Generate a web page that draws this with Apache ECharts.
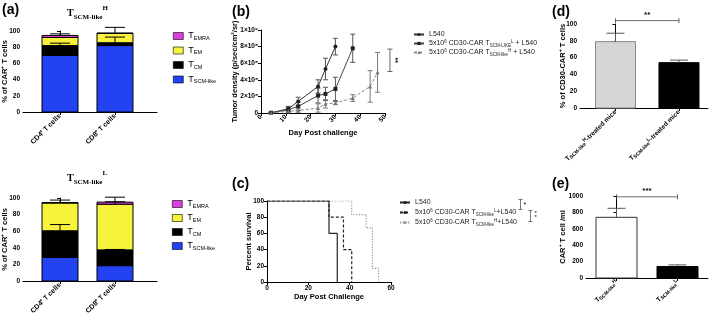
<!DOCTYPE html>
<html>
<head>
<meta charset="utf-8">
<title>CD30-CAR TSCM-like</title>
<script src="https://cdn.jsdelivr.net/npm/echarts@6/dist/echarts.min.js"></script>
<style>html,body{margin:0;padding:0;background:#fff}</style>
</head>
<body>
<div id="main" style="width:709px;height:315px"></div>
<script>
// ---------- data ----------
var cellGroups = ['CD4⁺ T cells', 'CD8⁺ T cells'];
var subsetNames = ['TEMRA', 'TEM', 'TCM', 'TSCM-like'];
var subsetColors = {'TSCM-like': '#2342f2', 'TCM': '#000000', 'TEM': '#f7f23c', 'TEMRA': '#d93fdc'};

// (a) T_SCM-like^H, % of CAR+ T cells [CD4, CD8]
var highSCM = [70, 82];
var highCM = [12, 3.5];
var highEM = [10, 11.5];
var highEMRA = [2.5, 0.5];
var highErrCM = [3, 7];
var highErrEM = [0, 0];
var highErrEMRA = [2, 7];

// (a) T_SCM-like^L
var lowSCM = [28.5, 18.5];
var lowCM = [32, 19];
var lowEM = [33.5, 55];
var lowEMRA = [0.5, 2.5];
var lowErrCM = [7.5, 0.5];
var lowErrEM = [0, 3];
var lowErrEMRA = [3, 6];

// (b) tumor density (p/sec/cm2/sr)
var daysL540 = [4, 11, 15, 23, 26, 30];
var tumorL540 = [0.03e8, 0.5e8, 1.4e8, 3.2e8, 5.3e8, 8.0e8];
var tumorL540Err = [0.03e8, 0.3e8, 0.5e8, 0.8e8, 1.3e8, 1.0e8];
var daysLowTx = [4, 11, 15, 23, 26, 30, 37];
var tumorLowTx = [0.03e8, 0.4e8, 0.8e8, 2.1e8, 2.3e8, 2.9e8, 7.8e8];
var tumorLowTxErr = [0.03e8, 0.3e8, 0.5e8, 0.9e8, 0.8e8, 1.4e8, 1.7e8];
var daysHighTx = [4, 11, 15, 23, 26, 30, 37, 44, 47];
var tumorHighTx = [0.02e8, 0.2e8, 0.3e8, 0.6e8, 1.1e8, 1.2e8, 1.8e8, 3.2e8, 4.9e8];
var tumorHighTxErr = [0.02e8, 0.1e8, 0.2e8, 0.5e8, 0.5e8, 0.2e8, 0.4e8, 1.9e8, 2.4e8];
var densityTicks = ['0', '2×10⁸', '4×10⁸', '6×10⁸', '8×10⁸', '1×10⁹'];

// (c) percent survival
var survDaysL540 = [0, 30, 34];
var survL540 = [100, 60, 0];
var survDaysLowTx = [0, 30, 37, 41];
var survLowTx = [100, 80, 40, 0];
var survDaysHighTx = [0, 41, 48, 51, 54];
var survHighTx = [100, 83.3, 66.7, 16.7, 0];

// (d) % of CD30-CAR+ T cells, (e) CAR+ T cell /ml
var miceGroups = ['T{s|SCM-like}{p|H}-treated mice', 'T{s|SCM-like}{p|L}-treated mice'];
var pctCD30 = [79, 54];
var pctCD30Err = [10, 3];
var cellGroupsE = ['T{s|SCM-like}{p|H}', 'T{s|SCM-like}{p|L}'];
var carPerMl = [740, 140];
var carPerMlErr = [110, 20];

// ---------- helpers ----------
var FONT = 'Liberation Sans';
var black = {color: '#000', width: 1};
var tickLbl = {color: '#000', fontSize: 6.5, fontWeight: 'bold', fontFamily: FONT, margin: 3};
var nameStyle = {color: '#000', fontSize: 7.5, fontWeight: 'bold', fontFamily: FONT};
var richSub = {
  s: {fontSize: 5, fontWeight: 'bold', fontFamily: FONT, color: '#000', verticalAlign: 'bottom', lineHeight: 8},
  p: {fontSize: 5, fontWeight: 'bold', fontFamily: FONT, color: '#000', verticalAlign: 'top', lineHeight: 8}
};

function barItem(w, fills, strokes) {
  return function (params, api) {
    var x = api.value(0);
    var p0 = api.coord([x, api.value(1)]);
    var p1 = api.coord([x, api.value(2)]);
    var i = params.dataIndex;
    return {type: 'rect', shape: {x: p0[0] - w / 2, y: p1[1], width: w, height: p0[1] - p1[1]},
      style: {fill: fills[i % fills.length], stroke: strokes[i % strokes.length], lineWidth: 1}};
  };
}

function errItem(capW, color, both) {
  return function (params, api) {
    var x = api.value(0);
    var lo = api.coord([x, api.value(1)]);
    var hi = api.coord([x, api.value(2)]);
    var kids = [
      {type: 'line', shape: {x1: lo[0], y1: lo[1], x2: hi[0], y2: hi[1]}, style: {stroke: color, lineWidth: 1}},
      {type: 'line', shape: {x1: hi[0] - capW / 2, y1: hi[1], x2: hi[0] + capW / 2, y2: hi[1]}, style: {stroke: color, lineWidth: 1}}
    ];
    if (both) kids.push({type: 'line', shape: {x1: lo[0] - capW / 2, y1: lo[1], x2: lo[0] + capW / 2, y2: lo[1]}, style: {stroke: color, lineWidth: 1}});
    return {type: 'group', children: kids};
  };
}

function stackedPanel(gi, parts) {
  var out = [];
  var base = [0, 0];
  parts.forEach(function (p) {
    var data = p.vals.map(function (v, i) { return [i, base[i], base[i] + v]; });
    var c = subsetColors[p.name];
    out.push({type: 'custom', name: p.name, xAxisIndex: gi, yAxisIndex: gi, itemStyle: {color: c},
      encode: {x: 0, y: [1, 2]}, data: data, renderItem: barItem(36, [c], ['#000'])});
    var errData = [];
    p.err.forEach(function (e, i) {
      if (e > 0) errData.push([i, base[i] + p.vals[i], base[i] + p.vals[i] + e]);
    });
    out.push({type: 'custom', xAxisIndex: gi, yAxisIndex: gi, z: 5, encode: {x: 0, y: [1, 2]},
      data: errData, renderItem: errItem(20, '#000', false)});
    base = base.map(function (b, i) { return b + p.vals[i]; });
  });
  return out;
}

function catAxis(gi, min, max, labels, rich) {
  return {gridIndex: gi, type: 'value', min: min, max: max,
    axisLine: {show: true, lineStyle: black}, splitLine: {show: false},
    axisTick: {show: true, length: 3, customValues: [0, 1], lineStyle: black},
    axisLabel: Object.assign({}, tickLbl, {customValues: [0, 1], rotate: 45, fontSize: rich ? 6.5 : 7,
      formatter: function (v) { return Math.abs(v - Math.round(v)) < 1e-6 ? (labels[Math.round(v)] || '') : ''; },
      rich: richSub})};
}

function valAxis(gi, min, max, interval, name, gap, fmt) {
  return {gridIndex: gi, type: 'value', min: min, max: max, interval: interval,
    axisLine: {show: true, lineStyle: black}, splitLine: {show: false},
    axisTick: {show: true, length: 3, lineStyle: black},
    axisLabel: Object.assign({}, tickLbl, {formatter: fmt || function (v) { return String(v); }}),
    name: name, nameLocation: 'middle', nameGap: gap, nameMoveOverlap: false, nameTextStyle: nameStyle};
}

function lineErr(gi, xs, ys, es, color) {
  return {type: 'custom', xAxisIndex: gi, yAxisIndex: gi, z: 1, encode: {x: 0, y: [1, 2]},
    data: xs.map(function (x, i) { return [x, ys[i] - es[i], ys[i] + es[i]]; }),
    renderItem: errItem(5, color, true)};
}

function pairs(xs, ys) { return xs.map(function (x, i) { return [x, ys[i]]; }); }

function sigBracket(gi, x0, x1, y, text) {
  return {type: 'custom', xAxisIndex: gi, yAxisIndex: gi, z: 6, clip: false, data: [[x0, x1, y]],
    renderItem: function (params, api) {
      var a = api.coord([api.value(0), api.value(2)]);
      var b = api.coord([api.value(1), api.value(2)]);
      var st = {stroke: '#444', lineWidth: 0.8};
      return {type: 'group', children: [
        {type: 'line', shape: {x1: a[0], y1: a[1], x2: b[0], y2: b[1]}, style: st},
        {type: 'line', shape: {x1: a[0], y1: a[1] - 2.5, x2: a[0], y2: a[1] + 2.5}, style: st},
        {type: 'line', shape: {x1: b[0], y1: b[1] - 2.5, x2: b[0], y2: b[1] + 2.5}, style: st},
        {type: 'text', x: (a[0] + b[0]) / 2, y: a[1] - 2, style: {text: text, fill: '#000', fontSize: 8, fontWeight: 'bold', fontFamily: FONT, align: 'center', verticalAlign: 'bottom'}}
      ]};
    }};
}

function subsetFmt(name) { return 'T{s|' + name.slice(1) + '}'; }
var subsetLegendText = {color: '#000', fontSize: 9, fontFamily: FONT, lineHeight: 10,
  rich: {s: {fontSize: 5.5, fontFamily: FONT, color: '#000', verticalAlign: 'bottom', lineHeight: 8}}};

var legendNames = {
  bL540: 'L540',
  bLow: '5x10{p|6} CD30-CAR T{s|SCM-LIKE}{p|L} + L540',
  bHigh: '5x10{p|6} CD30-CAR T{s|SCM-like}{p|H} + L540',
  cL540: 'L540',
  cLow: '5x10{p|6} CD30-CAR T{s|SCM-like}{p|L}+L540',
  cHigh: '5x10{p|6} CD30-CAR T{s|SCM-like}{p|H}+L540'
};
var smallLegendText = {color: '#222', fontSize: 7, fontFamily: FONT, lineHeight: 9,
  rich: {
    s: {fontSize: 4.5, fontFamily: FONT, color: '#222', verticalAlign: 'bottom', lineHeight: 8},
    p: {fontSize: 4.5, fontFamily: FONT, color: '#222', verticalAlign: 'top', lineHeight: 8}
  }};

var titleRich = {
  t: {fontSize: 10, fontWeight: 'bold', fontFamily: 'Liberation Serif', color: '#000', lineHeight: 16},
  s: {fontSize: 7, fontWeight: 'bold', fontFamily: 'Liberation Serif', color: '#000', verticalAlign: 'bottom', lineHeight: 10},
  p: {fontSize: 7, fontWeight: 'bold', fontFamily: 'Liberation Serif', color: '#000', verticalAlign: 'top', lineHeight: 9}
};

var series = [];
series = series.concat(stackedPanel(0, [
  {name: 'TSCM-like', vals: highSCM, err: [0, 0]},
  {name: 'TCM', vals: highCM, err: highErrCM},
  {name: 'TEM', vals: highEM, err: highErrEM},
  {name: 'TEMRA', vals: highEMRA, err: highErrEMRA}
]));
series = series.concat(stackedPanel(1, [
  {name: 'TSCM-like', vals: lowSCM, err: [0, 0]},
  {name: 'TCM', vals: lowCM, err: lowErrCM},
  {name: 'TEM', vals: lowEM, err: lowErrEM},
  {name: 'TEMRA', vals: lowEMRA, err: lowErrEMRA}
]));

// (b)
series.push(lineErr(2, daysL540, tumorL540, tumorL540Err, '#555'));
series.push(lineErr(2, daysLowTx, tumorLowTx, tumorLowTxErr, '#555'));
series.push(lineErr(2, daysHighTx, tumorHighTx, tumorHighTxErr, '#777'));
series.push({type: 'line', name: 'bL540', xAxisIndex: 2, yAxisIndex: 2, data: pairs(daysL540, tumorL540),
  symbol: 'circle', symbolSize: 4, lineStyle: {color: '#333', width: 1}, itemStyle: {color: '#222'}});
series.push({type: 'line', name: 'bLow', xAxisIndex: 2, yAxisIndex: 2, data: pairs(daysLowTx, tumorLowTx),
  symbol: 'rect', symbolSize: 4, lineStyle: {color: '#444', width: 1}, itemStyle: {color: '#222'}});
series.push({type: 'line', name: 'bHigh', xAxisIndex: 2, yAxisIndex: 2, data: pairs(daysHighTx, tumorHighTx),
  symbol: 'triangle', symbolSize: 4, lineStyle: {color: '#888', width: 1, type: [3, 2]}, itemStyle: {color: '#777'}});
series.push({type: 'custom', xAxisIndex: 2, yAxisIndex: 2, clip: false, data: [[52, 5.0e8, 7.7e8]],
  renderItem: function (params, api) {
    var lo = api.coord([api.value(0), api.value(1)]);
    var hi = api.coord([api.value(0), api.value(2)]);
    var st = {stroke: '#444', lineWidth: 0.8};
    return {type: 'group', children: [
      {type: 'line', shape: {x1: lo[0], y1: lo[1], x2: hi[0], y2: hi[1]}, style: st},
      {type: 'line', shape: {x1: lo[0] - 2.5, y1: lo[1], x2: lo[0] + 2.5, y2: lo[1]}, style: st},
      {type: 'line', shape: {x1: hi[0] - 2.5, y1: hi[1], x2: hi[0] + 2.5, y2: hi[1]}, style: st},
      {type: 'text', x: lo[0] + 5, y: (lo[1] + hi[1]) / 2, rotation: -Math.PI / 2,
        style: {text: '**', fill: '#000', fontSize: 7, fontWeight: 'bold', fontFamily: FONT, align: 'center', verticalAlign: 'middle'}}
    ]};
  }});

// (c)
series.push({type: 'line', name: 'cL540', xAxisIndex: 3, yAxisIndex: 3, step: 'end', data: pairs(survDaysL540, survL540),
  showSymbol: false, symbol: 'circle', symbolSize: 3, lineStyle: {color: '#222', width: 1.2}, itemStyle: {color: '#222'}, z: 4});
series.push({type: 'line', name: 'cLow', xAxisIndex: 3, yAxisIndex: 3, step: 'end', data: pairs(survDaysLowTx, survLowTx),
  showSymbol: false, symbol: 'circle', symbolSize: 3, lineStyle: {color: '#222', width: 1.2, type: [3, 2]}, itemStyle: {color: '#222'}, z: 3});
series.push({type: 'line', name: 'cHigh', xAxisIndex: 3, yAxisIndex: 3, step: 'end', data: pairs(survDaysHighTx, survHighTx),
  showSymbol: false, symbol: 'circle', symbolSize: 3, lineStyle: {color: '#999', width: 1.2, type: [1.2, 1.5]}, itemStyle: {color: '#999'}, z: 2});

// (d)
series.push({type: 'custom', xAxisIndex: 4, yAxisIndex: 4, encode: {x: 0, y: [1, 2]},
  data: pctCD30.map(function (v, i) { return [i, 0, v]; }),
  renderItem: barItem(40, ['#d6d6d6', '#000'], ['#888', '#000'])});
series.push({type: 'custom', xAxisIndex: 4, yAxisIndex: 4, z: 5, encode: {x: 0, y: [1, 2]},
  data: pctCD30.map(function (v, i) { return [i, v, v + pctCD30Err[i]]; }),
  renderItem: errItem(18, '#555', false)});
series.push(sigBracket(4, 0, 1, 104, '**'));

// (e)
series.push({type: 'custom', xAxisIndex: 5, yAxisIndex: 5, encode: {x: 0, y: [1, 2]},
  data: carPerMl.map(function (v, i) { return [i, 0, v]; }),
  renderItem: barItem(41, ['#fff', '#000'], ['#333', '#000'])});
series.push({type: 'custom', xAxisIndex: 5, yAxisIndex: 5, z: 5, encode: {x: 0, y: [1, 2]},
  data: carPerMl.map(function (v, i) { return [i, v, v + carPerMlErr[i]]; }),
  renderItem: errItem(18, '#555', false)});
series.push(sigBracket(5, 0, 1, 990, '***'));

var option = {
  animation: false,
  backgroundColor: '#fff',
  title: [
    {text: '{t|T}{s|SCM-like}{p|H}', left: 62, top: 0, textStyle: {rich: titleRich}},
    {text: '{t|T}{s|SCM-like}{p|L}', left: 62, top: 165, textStyle: {rich: titleRich}}
  ],
  grid: [
    {left: 23, top: 31, width: 134, height: 81, outerBoundsMode: 'none'},
    {left: 23, top: 198, width: 134, height: 83, outerBoundsMode: 'none'},
    {left: 261, top: 30, width: 124, height: 83, outerBoundsMode: 'none'},
    {left: 267, top: 201, width: 124, height: 81, outerBoundsMode: 'none'},
    {left: 580, top: 24, width: 128, height: 84, outerBoundsMode: 'none'},
    {left: 586, top: 196, width: 122, height: 82, outerBoundsMode: 'none'}
  ],
  xAxis: [
    catAxis(0, -0.673, 1.764, cellGroups, false),
    catAxis(1, -0.673, 1.764, cellGroups, false),
    Object.assign(valAxis(2, 0, 50, 10, 'Day Post challenge', 16), {axisLabel: Object.assign({}, tickLbl, {rotate: 45})}),
    valAxis(3, 0, 60, 20, 'Day Post Challenge', 11),
    catAxis(4, -0.559, 1.457, miceGroups, true),
    catAxis(5, -0.5, 1.5, cellGroupsE, true)
  ],
  yAxis: [
    valAxis(0, 0, 100, 20, '% of CAR⁺ T cells', 14),
    valAxis(1, 0, 100, 20, '% of CAR⁺ T cells', 14),
    valAxis(2, 0, 1e9, 2e8, 'Tumor density (p/sec/cm²/sr)', 22, function (v) { return densityTicks[Math.round(v / 2e8)]; }),
    valAxis(3, 0, 100, 20, 'Percent survival', 14),
    valAxis(4, 0, 100, 20, '% of CD30-CAR⁺ T cells', 13),
    valAxis(5, 0, 1000, 200, 'CAR⁺ T cell /ml', 19)
  ],
  legend: [
    {left: 168, top: 26, orient: 'vertical', icon: 'rect', itemWidth: 10, itemHeight: 7, itemGap: 4.5, selectedMode: false,
      data: subsetNames, formatter: subsetFmt, textStyle: subsetLegendText, itemStyle: {borderColor: '#000', borderWidth: 0.6}},
    {left: 167, top: 194, orient: 'vertical', icon: 'rect', itemWidth: 10, itemHeight: 7, itemGap: 4, selectedMode: false,
      data: subsetNames, formatter: subsetFmt, textStyle: subsetLegendText, itemStyle: {borderColor: '#000', borderWidth: 0.6}},
    {left: 408, top: 25, orient: 'vertical', itemWidth: 10, itemHeight: 4, itemGap: 0, selectedMode: false,
      data: ['bL540', 'bLow', 'bHigh'], formatter: function (n) { return legendNames[n]; }, textStyle: smallLegendText},
    {left: 394, top: 193, orient: 'vertical', itemWidth: 10, itemHeight: 4, itemGap: 1, selectedMode: false,
      data: ['cL540', 'cLow', 'cHigh'], formatter: function (n) { return legendNames[n]; }, textStyle: smallLegendText}
  ],
  graphic: [
    {type: 'text', left: 2, top: 3, style: {text: '(a)', font: 'bold 14px "Liberation Sans"', fill: '#000'}},
    {type: 'text', left: 232, top: 5, style: {text: '(b)', font: 'bold 14px "Liberation Sans"', fill: '#000'}},
    {type: 'text', left: 232, top: 177, style: {text: '(c)', font: 'bold 14px "Liberation Sans"', fill: '#000'}},
    {type: 'text', left: 552, top: 5, style: {text: '(d)', font: 'bold 14px "Liberation Sans"', fill: '#000'}},
    {type: 'text', left: 552, top: 177, style: {text: '(e)', font: 'bold 14px "Liberation Sans"', fill: '#000'}},
    {type: 'group', left: 516, top: 197, children: [
      {type: 'line', shape: {x1: 2, y1: 0, x2: 2, y2: 10}, style: {stroke: '#555', lineWidth: 0.8}},
      {type: 'line', shape: {x1: 0, y1: 0, x2: 4, y2: 0}, style: {stroke: '#555', lineWidth: 0.8}},
      {type: 'line', shape: {x1: 0, y1: 10, x2: 4, y2: 10}, style: {stroke: '#555', lineWidth: 0.8}},
      {type: 'text', x: 5, y: 2, style: {text: '*', fill: '#000', fontSize: 7, fontFamily: FONT}}
    ]},
    {type: 'group', left: 526, top: 208, children: [
      {type: 'line', shape: {x1: 2, y1: 0, x2: 2, y2: 11}, style: {stroke: '#555', lineWidth: 0.8}},
      {type: 'line', shape: {x1: 0, y1: 0, x2: 4, y2: 0}, style: {stroke: '#555', lineWidth: 0.8}},
      {type: 'line', shape: {x1: 0, y1: 11, x2: 4, y2: 11}, style: {stroke: '#555', lineWidth: 0.8}},
      {type: 'text', x: 6, y: 1, style: {text: '*\n*', fill: '#000', fontSize: 6, lineHeight: 4, fontFamily: FONT}}
    ]}
  ],
  series: series
};

var chart = echarts.init(document.getElementById('main'));
chart.setOption(option);
</script>
</body>
</html>
